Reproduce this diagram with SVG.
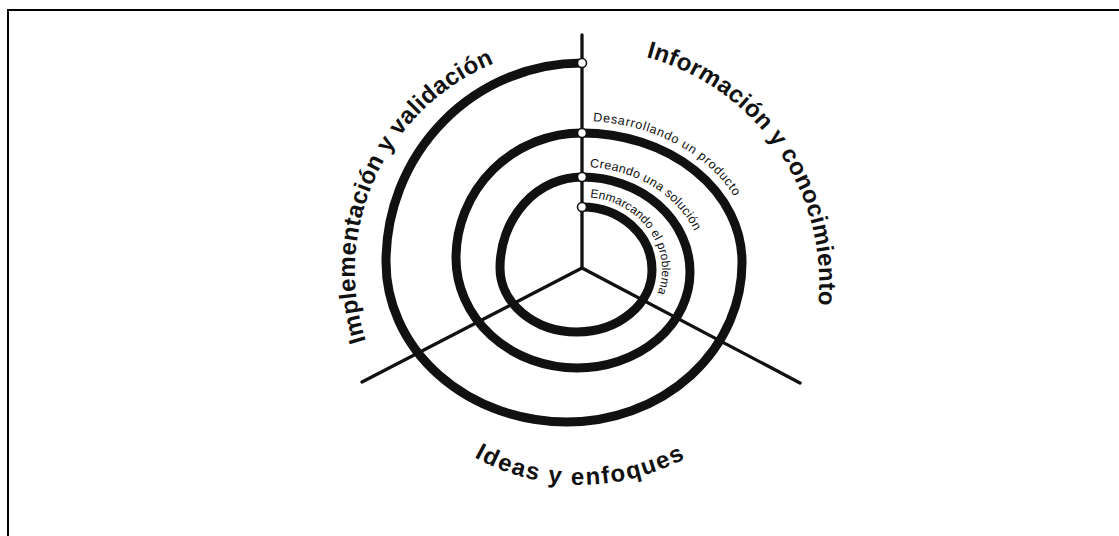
<svg xmlns="http://www.w3.org/2000/svg" width="1119" height="536" viewBox="0 0 1119 536">
<style>
.frame{fill:none;stroke:#000;stroke-width:2}
.radial{fill:none;stroke:#111;stroke-width:3.3;stroke-linecap:round}
.spiral{fill:none;stroke:#111;stroke-width:9;stroke-linecap:butt}
.node{fill:#fff;stroke:#111;stroke-width:1.6}
.big{font-family:"Liberation Sans",Arial,sans-serif;font-weight:bold;font-size:24px;fill:#111}
.small{font-family:"Liberation Sans",Arial,sans-serif;font-size:12.5px;fill:#111}
.guide{fill:none;stroke:none}
</style>
<defs>
<path id="pL" class="guide" d="M 366 341 A 225 225 0 0 1 500 61"/>
<path id="pR" class="guide" d="M 646 57 A 235 235 0 0 1 818 308"/>
<path id="pB" class="guide" d="M 474 457 A 219 219 0 0 0 691 455"/>
<path id="pD" class="guide" d="M 582 121 A 172 141 0 0 1 754 262"/>
<path id="pC" class="guide" d="M 582 167 A 122 105 0 0 1 704 272"/>
<path id="pE" class="guide" d="M 582 197 A 80 73 0 0 1 662 270 A 85 72 0 0 1 577 342"/>
</defs>
<rect width="1119" height="536" fill="#fff"/>
<g id="frame">
<polyline class="frame" points="8,536 8,10 1119,10"/>
</g>
<g id="connectors">
<line class="radial" x1="582" y1="35" x2="582" y2="268"/>
<line class="radial" x1="582" y1="268" x2="362" y2="382"/>
<line class="radial" x1="582" y1="268" x2="800" y2="383"/>
<path id="spiral" class="spiral" d="M 582 207 A 70 63 0 0 1 652 270 A 75 62 0 0 1 577 332 A 77 64 0 0 1 500 268 A 82 91 0 0 1 582 177 A 108 95 0 0 1 690 272 A 113 96 0 0 1 577 368 A 121 110 0 0 1 456 258 A 126 125 0 0 1 582 133 A 160 129 0 0 1 742 262 A 175 159 0 0 1 567 422 A 181 160 0 0 1 386 262 A 196 199 0 0 1 582 63"/>
</g>
<g id="node-outer-end"><circle class="node" cx="582" cy="63" r="4.5"/></g>
<g id="node-desarrollando"><circle class="node" cx="582" cy="133" r="4.5"/>
<text class="small"><textPath href="#pD" startOffset="11" textLength="166" lengthAdjust="spacing">Desarrollando un producto</textPath></text></g>
<g id="node-creando"><circle class="node" cx="582" cy="177" r="4.5"/>
<text class="small"><textPath href="#pC" startOffset="8" textLength="128" lengthAdjust="spacing">Creando una solución</textPath></text></g>
<g id="node-enmarcando"><circle class="node" cx="582" cy="207" r="4.5"/>
<text class="small" style="font-size:12px"><textPath href="#pE" startOffset="8" textLength="136" lengthAdjust="spacing">Enmarcando el problema</textPath></text></g>
<g id="label-implementacion"><text class="big"><textPath href="#pL" textLength="336" lengthAdjust="spacing">Implementación y validación</textPath></text></g>
<g id="label-informacion"><text class="big"><textPath href="#pR" textLength="328" lengthAdjust="spacing">Información y conocimiento</textPath></text></g>
<g id="label-ideas"><text class="big"><textPath href="#pB" textLength="220" lengthAdjust="spacing">Ideas y enfoques</textPath></text></g>
</svg>
